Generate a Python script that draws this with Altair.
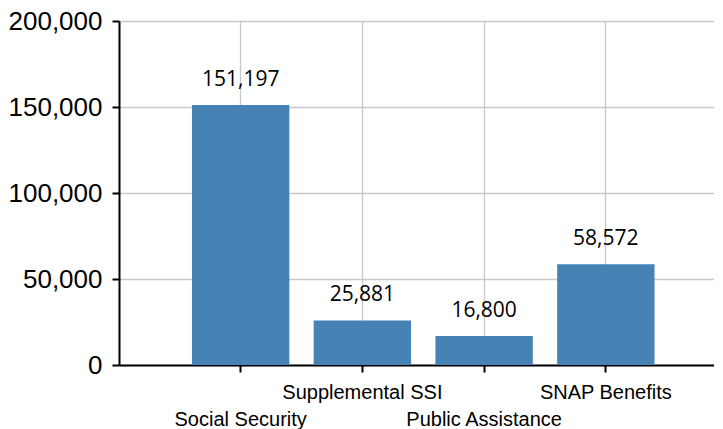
import altair as alt
import pandas as pd

categories = ["Social Security", "Supplemental SSI", "Public Assistance", "SNAP Benefits"]
values = [151197, 25881, 16800, 58572]
lower_row = ["Social Security", "Public Assistance"]

df = pd.DataFrame({"category": categories, "value": values})

lower_js = "[" + ", ".join("'" + c + "'" for c in lower_row) + "]"

x = alt.X(
    "category:N",
    sort=categories,
    title=None,
    scale=alt.Scale(paddingInner=0.2, paddingOuter=0.544, align=0.551),
    axis=alt.Axis(
        labelAngle=0,
        labelFont="Liberation Sans",
        labelFontSize=20,
        labelColor="black",
        labelPadding=10,
        labelLineHeight=27,
        labelExpr="indexof(" + lower_js + ", datum.label) >= 0 ? ['', datum.label] : datum.label",
        tickSize=7,
        tickWidth=2,
        tickColor="black",
        domainColor="black",
        domainWidth=2,
        grid=True,
        gridColor="#c8c8c8",
        gridWidth=1.3,
    ),
)

y = alt.Y(
    "value:Q",
    title=None,
    scale=alt.Scale(domain=[0, 200000]),
    axis=alt.Axis(
        values=[0, 50000, 100000, 150000, 200000],
        format=",.0f",
        labelFont="Liberation Sans",
        labelFontSize=26,
        labelColor="black",
        labelPadding=10,
        tickSize=7,
        tickWidth=2,
        tickColor="black",
        domainColor="black",
        domainWidth=2,
        gridColor="#c8c8c8",
        gridWidth=1.3,
    ),
)

bars = alt.Chart(df).mark_bar(color="steelblue").encode(x=x, y=y)
labels = alt.Chart(df).mark_text(
    dy=-19, baseline="alphabetic", font="Open Sans", fontSize=21, color="black"
).encode(x=alt.X("category:N", sort=categories), y="value:Q", text=alt.Text("value:Q", format=",.0f"))

chart = (bars + labels).properties(width=595, height=344, padding=0).configure_view(stroke=None)

chart.save("out.html", embed_options={"renderer": "svg", "actions": False})
